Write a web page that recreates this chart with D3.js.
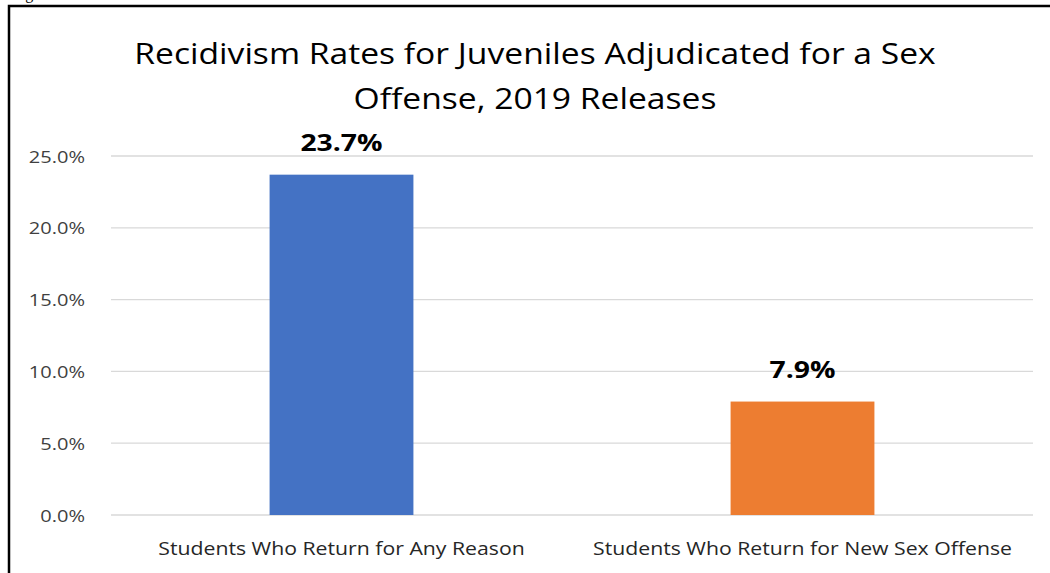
<!DOCTYPE html>
<html>
<head>
<meta charset="utf-8">
<script src="https://cdn.jsdelivr.net/npm/d3@7"></script>
<style>
  body { margin: 0; background: #fff; }
  text { font-family: "Open Sans", sans-serif; }
</style>
</head>
<body>
<script>
var w = 1050;
var h = 573;

var categories = ["Students Who Return for Any Reason", "Students Who Return for New Sex Offense"];
var values = [23.7, 7.9];
var barColors = ["#4472C4", "#ED7D31"];
var yTicks = [0, 5, 10, 15, 20, 25];
var titleLines = ["Recidivism Rates for Juveniles Adjudicated for a Sex", "Offense, 2019 Releases"];

var stretch = 1.18;   // the picture is a bit wide, text looks stretched

var svg = d3.select("body")
            .append("svg")
            .attr("width", w)
            .attr("height", h);

// frame of the figure (runs off the right and bottom edge)
svg.append("rect")
    .attr("x", 9).attr("y", 6)
    .attr("width", 1060).attr("height", 600)
    .attr("fill", "none")
    .attr("stroke", "#000")
    .attr("stroke-width", 2.5);

// caption cut off above the frame
svg.append("text")
    .attr("x", 12).attr("y", -1)
    .style("font-family", "'Liberation Serif', serif")
    .style("font-size", "16px")
    .attr("fill", "#000")
    .text("Figure 5");

var x = d3.scaleBand()
          .domain(categories)
          .range([111, 1033])
          .paddingInner(0.688)
          .paddingOuter(0.344);

var y = d3.scaleLinear()
          .domain([0, 25])
          .range([515, 156]);

// gridlines
svg.append("g")
    .selectAll("line")
    .data(yTicks)
    .enter()
    .append("line")
    .attr("x1", 111).attr("x2", 1033)
    .attr("y1", function(d){ return y(d); })
    .attr("y2", function(d){ return y(d); })
    .attr("stroke", "#d9d9d9")
    .attr("stroke-width", 1.3);

// y axis labels
var yAxis = d3.axisLeft(y)
              .tickValues(yTicks)
              .tickSize(0)
              .tickPadding(0)
              .tickFormat(function(d){ return d3.format(".1f")(d) + "%"; });

var yg = svg.append("g")
    .attr("transform", "translate(85,0)")
    .call(yAxis);
yg.select(".domain").remove();
yg.selectAll("text")
    .attr("x", 0)
    .attr("dy", "0.36em")
    .attr("transform", "scale(" + stretch + ",1)")
    .style("font-family", "'Open Sans', sans-serif")
    .style("font-size", "17px")
    .attr("fill", "#404040");

// bars
svg.selectAll("rect.bar")
    .data(values)
    .enter()
    .append("rect")
    .attr("class", "bar")
    .attr("x", function(d,i){ return x(categories[i]); })
    .attr("width", x.bandwidth())
    .attr("y", function(d){ return y(d); })
    .attr("height", function(d){ return y(0) - y(d); })
    .attr("fill", function(d,i){ return barColors[i]; });

// value labels
svg.selectAll("text.val")
    .data(values)
    .enter()
    .append("text")
    .attr("class", "val")
    .attr("transform", function(d,i){
        return "translate(" + (x(categories[i]) + x.bandwidth()/2) + "," + (y(d) - 23.5) + ") scale(" + stretch + ",1)";
    })
    .attr("text-anchor", "middle")
    .style("font-size", "24px")
    .style("font-weight", "bold")
    .attr("fill", "#000")
    .text(function(d){ return d.toFixed(1) + "%"; });

// x axis labels
var xAxis = d3.axisBottom(x).tickSize(0).tickPadding(0);
var xg = svg.append("g")
    .attr("transform", "translate(0,555)")
    .call(xAxis);
xg.select(".domain").remove();
xg.selectAll("text")
    .attr("y", 0)
    .attr("dy", 0)
    .attr("transform", "scale(" + stretch + ",1)")
    .style("font-family", "'Open Sans', sans-serif")
    .style("font-size", "18px")
    .attr("fill", "#262626");

// title
svg.append("g")
    .selectAll("text")
    .data(titleLines)
    .enter()
    .append("text")
    .attr("transform", function(d,i){
        return "translate(535," + (64 + i*45) + ") scale(1.16,1)";
    })
    .attr("text-anchor", "middle")
    .style("font-size", "29px")
    .attr("fill", "#000")
    .text(function(d){ return d; });
</script>
</body>
</html>
